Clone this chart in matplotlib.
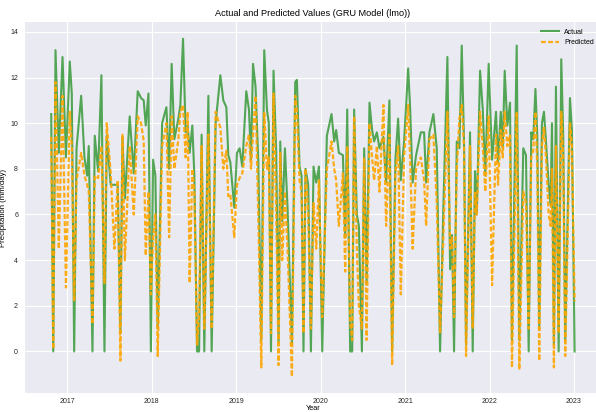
"""Actual vs predicted precipitation, GRU model (lmo)."""
import numpy as np
import matplotlib
matplotlib.use('Agg')
import matplotlib.pyplot as plt

# decimal year of each observation
years = [
    2016.807, 2016.831, 2016.858, 2016.897, 2016.941, 2016.982, 2017.027, 2017.051, 2017.079, 2017.107,
    2017.162, 2017.201, 2017.233, 2017.252, 2017.296, 2017.323, 2017.363, 2017.402, 2017.438, 2017.465,
    2017.512, 2017.556, 2017.595, 2017.627, 2017.651, 2017.680, 2017.737, 2017.785, 2017.832, 2017.872,
    2017.903, 2017.927, 2017.959, 2017.988, 2018.014, 2018.041, 2018.069, 2018.121, 2018.172, 2018.204,
    2018.234, 2018.266, 2018.314, 2018.337, 2018.369, 2018.400, 2018.424, 2018.447, 2018.479, 2018.503,
    2018.535, 2018.559, 2018.589, 2018.621, 2018.669, 2018.708, 2018.755, 2018.811, 2018.846, 2018.882,
    2018.905, 2018.929, 2018.976, 2019.008, 2019.039, 2019.071, 2019.118, 2019.150, 2019.174, 2019.198,
    2019.228, 2019.260, 2019.296, 2019.331, 2019.363, 2019.385, 2019.411, 2019.441, 2019.473, 2019.501,
    2019.521, 2019.544, 2019.576, 2019.607, 2019.659, 2019.698, 2019.718, 2019.749, 2019.773, 2019.796,
    2019.820, 2019.852, 2019.884, 2019.915, 2019.947, 2019.979, 2020.018, 2020.073, 2020.128, 2020.160,
    2020.183, 2020.215, 2020.263, 2020.290, 2020.314, 2020.349, 2020.373, 2020.396, 2020.428, 2020.452,
    2020.488, 2020.515, 2020.544, 2020.578, 2020.609, 2020.633, 2020.665, 2020.696, 2020.743, 2020.775,
    2020.814, 2020.846, 2020.885, 2020.917, 2020.949, 2020.988, 2021.036, 2021.059, 2021.089, 2021.130,
    2021.186, 2021.225, 2021.249, 2021.288, 2021.335, 2021.375, 2021.414, 2021.453, 2021.501, 2021.533,
    2021.556, 2021.580, 2021.612, 2021.643, 2021.671, 2021.698, 2021.722, 2021.769, 2021.801, 2021.828,
    2021.849, 2021.888, 2021.920, 2021.950, 2021.990, 2022.030, 2022.077, 2022.101, 2022.133, 2022.156,
    2022.180, 2022.211, 2022.243, 2022.266, 2022.290, 2022.322, 2022.353, 2022.400, 2022.432, 2022.464,
    2022.495, 2022.518, 2022.544, 2022.566, 2022.589, 2022.621, 2022.645, 2022.669, 2022.701, 2022.724,
    2022.740, 2022.763, 2022.787, 2022.819, 2022.850, 2022.873, 2022.897, 2022.953, 2022.976, 2023.008,
]

actual = [
    10.4, 0.0, 13.2, 8.7, 12.9, 8.5, 12.7, 11.3, 0.0, 8.9,
    11.2, 8.5, 7.7, 9.0, 0.0, 9.45, 7.9, 12.1, 0.0, 9.45,
    7.3, 7.3, 7.3, 0.8, 9.4, 6.7, 10.3, 7.8, 11.4, 11.1,
    11.0, 9.9, 11.3, 0.0, 8.4, 7.7, 1.0, 10.0, 10.7, 8.0,
    12.6, 9.3, 10.2, 10.8, 13.7, 9.6, 9.9, 8.7, 9.9, 7.7,
    0.0, 0.0, 9.5, 0.0, 11.2, 0.0, 10.0, 12.1, 11.0, 10.7,
    8.6, 8.3, 6.3, 8.7, 8.9, 8.1, 11.4, 10.6, 8.4, 12.6,
    11.6, 8.4, 0.5, 13.2, 10.6, 10.0, 0.0, 12.3, 8.7, 0.4,
    9.2, 5.7, 8.9, 6.3, 0.3, 11.8, 11.9, 8.1, 7.7, 0.0,
    8.0, 7.3, 0.0, 8.1, 7.4, 8.1, 0.0, 9.45, 10.4, 9.2,
    9.7, 8.7, 8.6, 5.0, 10.6, 0.0, 0.0, 10.6, 6.0, 5.5,
    0.0, 8.9, 3.0, 10.9, 9.7, 9.2, 9.6, 8.9, 9.4, 7.4,
    11.0, 0.0, 8.4, 10.2, 7.5, 9.2, 12.4, 10.7, 7.4, 8.6,
    9.6, 9.6, 7.4, 9.6, 10.4, 8.9, 0.0, 6.3, 12.9, 3.6,
    5.1, 0.0, 9.2, 8.9, 13.4, 9.2, 0.3, 9.6, 0.0, 7.9,
    6.0, 12.3, 10.6, 7.7, 12.6, 8.4, 10.5, 8.3, 10.5, 8.9,
    12.3, 9.9, 10.9, 0.5, 6.0, 13.4, 0.5, 8.9, 8.6, 0.0,
    9.6, 9.3, 11.5, 9.45, 1.0, 10.0, 10.5, 9.2, 7.3, 6.4,
    10.0, 0.3, 11.6, 0.0, 12.8, 9.45, 0.5, 11.1, 9.7, 0.0,
]

predicted = [
    9.4, 0.1, 11.8, 4.5, 11.2, 2.8, 10.5, 9.0, 2.2, 7.5,
    8.7, 7.7, 7.3, 7.0, 1.2, 7.7, 7.6, 9.0, 3.0, 10.0,
    7.8, 4.5, 7.5, -0.4, 9.5, 4.0, 9.0, 6.0, 10.3, 10.0,
    9.2, 4.2, 7.0, 2.5, 5.0, 6.0, -0.2, 9.0, 10.0, 5.0,
    10.3, 8.0, 9.3, 10.5, 10.8, 8.5, 10.5, 3.0, 8.0, 7.0,
    0.3, 1.5, 9.0, 1.0, 9.5, 1.0, 10.5, 9.8, 8.0, 8.8,
    6.8, 6.9, 5.0, 7.3, 7.6, 7.8, 9.0, 9.5, 8.0, 9.5,
    11.2, 6.0, -0.7, 10.5, 8.0, 8.5, 0.8, 11.3, 6.0, -0.6,
    8.7, 4.0, 7.0, 4.5, -1.1, 11.2, 10.5, 7.5, 7.0, 0.8,
    8.0, 6.0, 1.0, 6.5, 4.5, 7.5, 1.5, 8.0, 9.2, 8.0,
    7.5, 5.5, 7.8, 3.5, 9.0, 1.3, 0.5, 10.3, 4.5, 2.0,
    1.0, 8.5, 0.5, 10.0, 8.5, 7.5, 9.0, 7.0, 10.8, 5.5,
    9.5, -0.6, 7.8, 9.0, 2.5, 8.5, 10.8, 8.5, 4.5, 8.0,
    8.5, 7.5, 5.5, 9.3, 9.5, 6.5, 0.8, 5.0, 10.5, 4.5,
    5.0, 1.5, 8.0, 10.2, 10.8, 9.0, -0.2, 9.0, 1.0, 7.0,
    6.0, 10.5, 9.0, 7.0, 10.3, 2.9, 9.5, 7.3, 9.7, 8.5,
    10.5, 9.0, 9.5, -0.7, 4.0, 10.5, -0.8, 7.0, 6.5, 1.0,
    8.5, 8.8, 10.5, 8.0, -0.4, 9.0, 9.8, 8.5, 6.0, 5.5,
    8.0, -0.7, 9.0, 0.8, 10.5, 8.5, -0.2, 10.0, 9.0, 2.2,
]

year_ticks = [2017, 2018, 2019, 2020, 2021, 2022, 2023]
value_ticks = [0, 2, 4, 6, 8, 10, 12, 14]

plt.rcParams['font.family'] = ['Liberation Sans', 'DejaVu Sans']

fig = plt.figure(figsize=(5.96, 4.12), dpi=100)
ax = fig.add_axes([0.042, 0.045, 0.966, 0.902])
ax.set_facecolor('#eaeaf2')
for s in ax.spines.values():
    s.set_visible(False)

ax.plot(years, actual, color='green', alpha=0.65, linewidth=1.5, label='Actual')
ax.plot(years, predicted, color='orange', alpha=0.9, linewidth=1.6,
        linestyle='--', dashes=(2.2, 1.0), label='Predicted')

ax.set_xticks(year_ticks)
ax.set_xticklabels([str(y) for y in year_ticks])
ax.set_yticks(value_ticks)
ax.grid(True, color='white', linewidth=0.8)
ax.set_axisbelow(True)
ax.tick_params(length=0, labelsize=5, colors='#262626')
ax.tick_params(axis='y', pad=5)
ax.tick_params(axis='x', pad=3)

ax.set_title('Actual and Predicted Values (GRU Model (lmo))', fontsize=6.6, pad=4)
ax.set_ylabel('Precipitation (mm/day)', fontsize=5.6, labelpad=2)
ax.set_xlabel('Year', fontsize=5.3, labelpad=0)
ax.legend(loc='upper right', fontsize=5, frameon=False, handlelength=2.5,
          borderaxespad=0.6)

fig.savefig('out.png', dpi=100)
